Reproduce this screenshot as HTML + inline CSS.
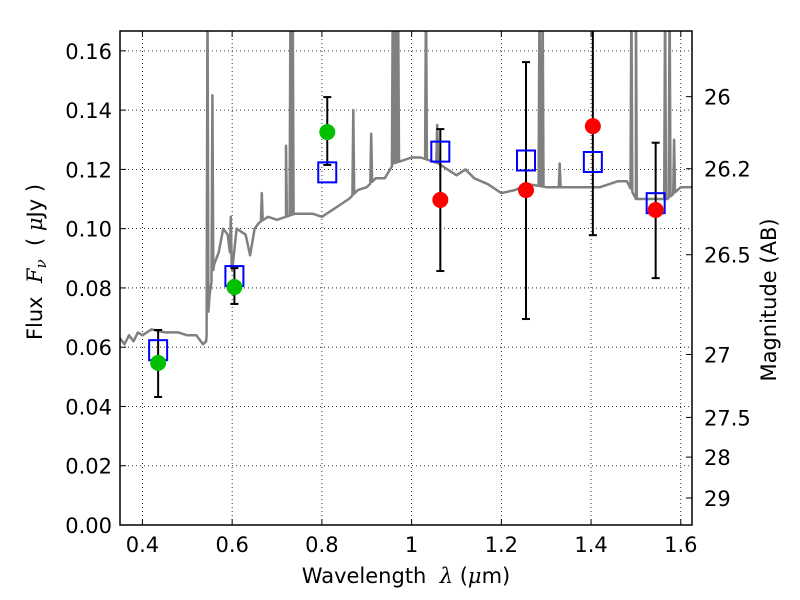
<!DOCTYPE html>
<html><head><meta charset="utf-8"><style>
html,body{margin:0;padding:0;background:#fff;}
svg{display:block;font-family:"DejaVu Sans","Liberation Sans",sans-serif;}
</style></head><body>
<svg id="chart" width="800" height="600" viewBox="0 0 800 600"></svg>
<script>
const xTicks=[0.4,0.6,0.8,1.0,1.2,1.4,1.6];
const xTickLabels=["0.4","0.6","0.8","1","1.2","1.4","1.6"];
const yTicks=[0,0.02,0.04,0.06,0.08,0.10,0.12,0.14,0.16];
const yTickLabels=["0.00","0.02","0.04","0.06","0.08","0.10","0.12","0.14","0.16"];
const magTicks=[26,26.2,26.5,27,27.5,28,29];
const magTickLabels=["26","26.2","26.5","27","27.5","28","29"];
const contW=[0.35,0.36,0.37,0.38,0.39,0.40,0.42,0.45,0.48,0.50,0.52,0.535,0.542,0.55,0.56,0.57,0.58,0.59,0.60,0.61,0.63,0.64,0.65,0.66,0.68,0.70,0.72,0.74,0.78,0.80,0.82,0.84,0.86,0.88,0.90,0.92,0.94,0.96,1.00,1.02,1.06,1.08,1.10,1.12,1.14,1.17,1.20,1.23,1.26,1.30,1.34,1.38,1.42,1.46,1.48,1.50,1.53,1.57,1.60,1.625];
const contF=[0.063,0.061,0.064,0.062,0.065,0.064,0.066,0.065,0.065,0.064,0.064,0.061,0.062,0.078,0.088,0.092,0.100,0.098,0.086,0.100,0.098,0.091,0.100,0.102,0.104,0.103,0.104,0.105,0.105,0.104,0.106,0.108,0.110,0.113,0.114,0.117,0.117,0.122,0.124,0.124,0.122,0.120,0.118,0.120,0.117,0.115,0.112,0.113,0.115,0.114,0.114,0.114,0.114,0.116,0.116,0.110,0.110,0.110,0.114,0.114];
const spikeW=[0.545,0.556,0.597,0.666,0.72,0.73,0.735,0.87,0.91,0.958,0.964,0.97,1.032,1.057,1.285,1.292,1.33,1.49,1.50,1.565,1.575,1.585];
const spikeF=[0.18,0.145,0.104,0.112,0.128,0.18,0.18,0.14,0.132,0.18,0.18,0.18,0.18,0.135,0.18,0.18,0.122,0.18,0.18,0.18,0.18,0.13];
const photW=[0.435,0.605,0.812,1.064,1.255,1.404,1.544];
const modelF=[0.059,0.084,0.119,0.126,0.123,0.1225,0.1086];
const errHi=[0.0658,0.0867,0.1444,0.1336,0.1562,0.175,0.129];
const errLo=[0.0432,0.0746,0.1215,0.0857,0.0695,0.0978,0.0833];
const greenW=[0.435,0.605,0.812];
const greenF=[0.0547,0.0803,0.1326];
const redW=[1.064,1.255,1.404,1.544];
const redF=[0.1097,0.113,0.1346,0.1063];

const L=120,R=692,T=31,B=525,xmin=0.35,xmax=1.625,ymin=0,ymax=0.1667;
const X=v=>L+(v-xmin)/(xmax-xmin)*(R-L);
const Y=v=>B-(v-ymin)/(ymax-ymin)*(B-T);
const magToF=m=>Math.pow(10,(23.9-m)/2.5);
const svg=document.getElementById('chart');
const NS='http://www.w3.org/2000/svg';
function mk(tag,attrs,parent){const e=document.createElementNS(NS,tag);for(const k in attrs)e.setAttribute(k,attrs[k]);(parent||svg).appendChild(e);return e;}

const defs=mk('defs',{});const cp=mk('clipPath',{id:'clip'},defs);mk('rect',{x:L,y:T,width:R-L,height:B-T},cp);

const grid=mk('g',{});


xTicks.forEach(t=>mk('line',{x1:X(t),x2:X(t),y1:T,y2:B,stroke:'#000','stroke-width':0.8,'stroke-dasharray':'1,3'},grid));
yTicks.forEach(t=>mk('line',{x1:L,x2:R,y1:Y(t),y2:Y(t),stroke:'#000','stroke-width':0.8,'stroke-dasharray':'1,3'},grid));

let pts=contW.map((w,i)=>[w,contF[i]]);
const interp=w=>{for(let i=0;i<contW.length-1;i++){if(w>=contW[i]&&w<=contW[i+1]){const t=(w-contW[i])/(contW[i+1]-contW[i]);return contF[i]+t*(contF[i+1]-contF[i]);}}return contF[contF.length-1];};
spikeW.forEach((w,i)=>{pts.push([w-0.002,interp(w-0.002)]);pts.push([w,spikeF[i]]);pts.push([w+0.002,interp(w+0.002)]);});
pts.sort((a,b)=>a[0]-b[0]);
const spec=mk('path',{d:'M'+pts.map(p=>X(p[0]).toFixed(1)+','+Y(p[1]).toFixed(1)).join('L'),fill:'none',stroke:'#808080','stroke-width':2.5,'stroke-linejoin':'round','clip-path':'url(#clip)'});



const eg=mk('g',{'clip-path':'url(#clip)'});
photW.forEach((w,i)=>{const g=mk('g',{stroke:'#000','stroke-width':2},eg);


mk('line',{x1:X(w),x2:X(w),y1:Y(errHi[i]),y2:Y(errLo[i])},g);
mk('line',{x1:X(w)-4,x2:X(w)+4,y1:Y(errHi[i]),y2:Y(errHi[i])},g);
mk('line',{x1:X(w)-4,x2:X(w)+4,y1:Y(errLo[i]),y2:Y(errLo[i])},g);});

photW.forEach((w,i)=>{const r=mk('rect',{x:X(w)-9,y:Y(modelF[i])-10,width:18,height:20,fill:'none',stroke:'#0000ff','stroke-width':2});

});
greenW.forEach((w,i)=>{const c=mk('circle',{cx:X(w),cy:Y(greenF[i]),r:8,fill:'#00c000'});

});
redW.forEach((w,i)=>{const c=mk('circle',{cx:X(w),cy:Y(redF[i]),r:8,fill:'#ff0000'});

});

const fr=mk('rect',{x:L,y:T,width:R-L,height:B-T,fill:'none',stroke:'#000','stroke-width':1.5});



xTicks.forEach((t,i)=>{mk('line',{x1:X(t),x2:X(t),y1:B,y2:B-6,stroke:'#000'});mk('line',{x1:X(t),x2:X(t),y1:T,y2:T+6,stroke:'#000'});
const tx=mk('text',{x:X(t),y:B+27,'font-size':21,'text-anchor':'middle'});tx.textContent=xTickLabels[i];

});
yTicks.forEach((t,i)=>{mk('line',{x1:L,x2:L+6,y1:Y(t),y2:Y(t),stroke:'#000'});
const tx=mk('text',{x:L-8,y:Y(t)+8,'font-size':21,'text-anchor':'end'});tx.textContent=yTickLabels[i];

});
magTicks.forEach((m,i)=>{const y=Y(magToF(m));mk('line',{x1:R,x2:R-6,y1:y,y2:y,stroke:'#000'});
const tx=mk('text',{x:R+12,y:y+8,'font-size':21});tx.textContent=magTickLabels[i];

});

const xl=mk('text',{x:406,y:583,'font-size':21,'text-anchor':'middle'});
xl.innerHTML='Wavelength\u00a0\u00a0<tspan font-family="DejaVu Serif" font-style="italic">λ</tspan> (<tspan font-family="DejaVu Serif" font-style="italic">μ</tspan>m)';


const yl=mk('text',{x:0,y:0,'font-size':21,'text-anchor':'middle',transform:'translate(42,262) rotate(-90)'});
yl.innerHTML='Flux\u00a0\u00a0<tspan font-family="DejaVu Serif" font-style="italic">F</tspan><tspan font-family="DejaVu Serif" font-style="italic" font-size="15" dy="4">ν</tspan><tspan dy="-4">\u00a0\u00a0(\u00a0</tspan><tspan font-family="DejaVu Serif" font-style="italic">μ</tspan>Jy )';


const ml=mk('text',{x:0,y:0,'font-size':21,'text-anchor':'middle',transform:'translate(776,300) rotate(-90)'});
ml.textContent='Magnitude (AB)';


</script>
</body></html>
